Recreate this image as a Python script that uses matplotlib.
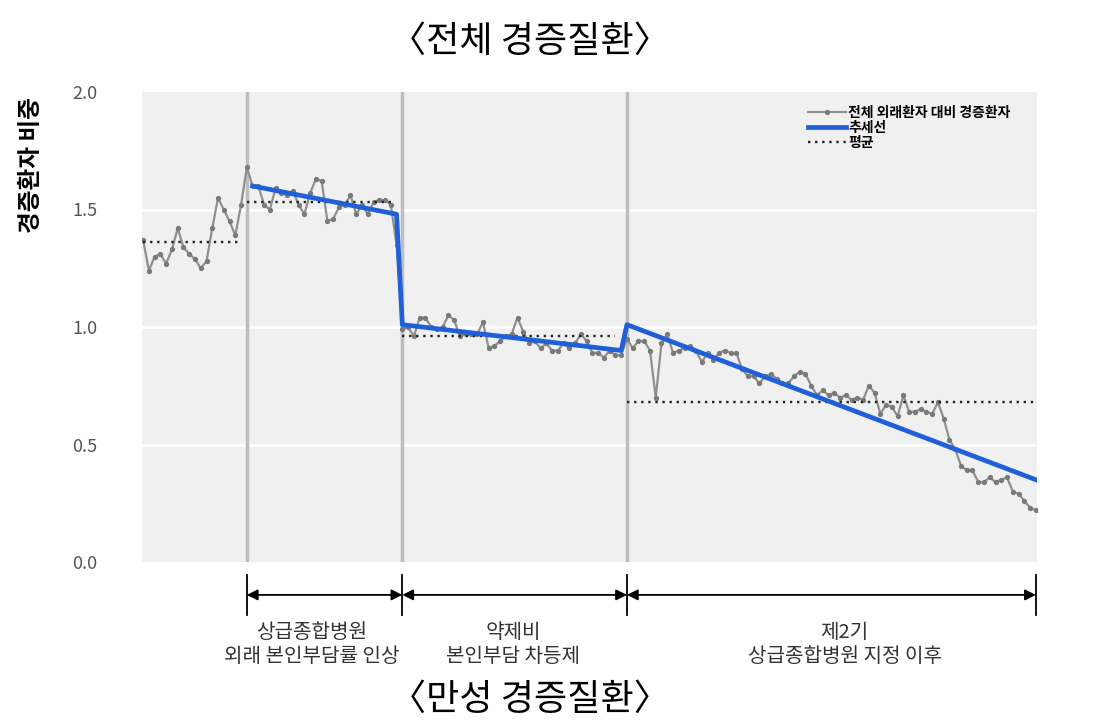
import matplotlib.pyplot as plt
import numpy as np
from matplotlib.lines import Line2D
from matplotlib.transforms import blended_transform_factory

plt.rcParams['font.family'] = ['Noto Sans CJK KR', 'DejaVu Sans']

# 월별 전체 외래환자 대비 경증환자 비중 (정책 구간별로 나눠서 읽음)
share_before = [1.37, 1.24, 1.30, 1.31, 1.27, 1.33, 1.42, 1.34, 1.31, 1.29,
                1.25, 1.28, 1.42, 1.55, 1.50, 1.45, 1.39, 1.52, 1.68]
share_period1 = [1.60, 1.60, 1.52, 1.50, 1.59, 1.57, 1.56, 1.58, 1.52, 1.48,
                 1.57, 1.63, 1.62, 1.45, 1.46, 1.51, 1.52, 1.56, 1.48, 1.52,
                 1.48, 1.53, 1.54, 1.54, 1.52, 1.35]
share_period2 = [0.99, 1.00, 0.96, 1.04, 1.04, 1.00, 0.99, 1.00, 1.05, 1.03,
                 0.96, 0.97, 0.97, 0.97, 1.02, 0.91, 0.92, 0.94, 0.96, 0.97,
                 1.04, 0.98, 0.93, 0.94, 0.91, 0.93, 0.90, 0.90, 0.93, 0.91,
                 0.93, 0.97, 0.94, 0.89, 0.89, 0.87, 0.90, 0.88, 0.88, 0.95]
share_period3 = [0.91, 0.94, 0.94, 0.90, 0.70, 0.93, 0.97, 0.89, 0.90, 0.91,
                 0.92, 0.90, 0.85, 0.89, 0.86, 0.89, 0.90, 0.89, 0.89, 0.82,
                 0.79, 0.79, 0.76, 0.79, 0.80, 0.78, 0.76, 0.76, 0.79, 0.81,
                 0.80, 0.75, 0.71, 0.73, 0.71, 0.72, 0.70, 0.71, 0.69, 0.70,
                 0.69, 0.75, 0.72, 0.63, 0.67, 0.66, 0.62, 0.71, 0.64, 0.64,
                 0.65, 0.64, 0.63, 0.68, 0.61, 0.52, 0.48, 0.41, 0.39, 0.39,
                 0.34, 0.34, 0.36, 0.34, 0.35, 0.36, 0.30, 0.29, 0.26, 0.23,
                 0.22]

share = share_before + share_period1 + share_period2 + share_period3
months = np.arange(len(share))

# 정책 시점 (월 인덱스)
policy_months = [18, 45, 84]
end_month = 155

# 추세선 (구간별 회귀선)
trend_months = [19, 44, 45, 83, 84, 155]
trend_values = [1.60, 1.48, 1.01, 0.90, 1.01, 0.35]

# 구간별 평균
mean_starts = [0, 18, 45, 84]
mean_ends = [17, 43, 82, 155]
mean_values = [1.36, 1.53, 0.96, 0.68]

period_labels = ['상급종합병원\n외래 본인부담률 인상',
                 '약제비\n본인부담 차등제',
                 '제2기\n상급종합병원 지정 이후']
label_centers = [29.3, 64.3, 121.8]

fig = plt.figure(figsize=(11.06, 7.28), dpi=100)
ax = fig.add_axes([142 / 1106, 1 - 562 / 728, 895 / 1106, 470 / 728])
ax.set_facecolor('#f0f0f0')
for s in ax.spines.values():
    s.set_visible(False)

ax.set_xlim(-0.2, 155.2)
ax.set_ylim(0, 2.0)
ax.set_yticks([0, 0.5, 1.0, 1.5, 2.0])
ax.set_yticklabels(['0.0', '0.5', '1.0', '1.5', '2.0'])
ax.set_xticks([])
ax.tick_params(axis='y', length=0, pad=32, labelsize=13, labelcolor='#555555')
for yv in [0.5, 1.0, 1.5]:
    ax.axhline(yv, color='white', lw=2, zorder=0.5)

for m in policy_months:
    ax.axvline(m, color='#bdbdbd', lw=2.5, zorder=1)

ax.plot(months, share, color='#8f8f8f', lw=1.6, marker='o', markersize=2.8,
        markerfacecolor='#7a7a7a', markeredgecolor='#7a7a7a', zorder=2)

for x0, x1, mv in zip(mean_starts, mean_ends, mean_values):
    ax.plot([x0, x1], [mv, mv], color='#222222', lw=1.7, linestyle=(0, (1, 2)), zorder=3)

ax.plot(trend_months, trend_values, color='#1f5fd8', lw=3.4, zorder=4)

handles = [
    Line2D([], [], color='#8f8f8f', lw=1.5, marker='o', markersize=2.8,
           markerfacecolor='#7a7a7a', markeredgecolor='#7a7a7a'),
    Line2D([], [], color='#1f5fd8', lw=3.4),
    Line2D([], [], color='#222222', lw=1.7, linestyle=(0, (1, 2))),
]
ax.legend(handles, ['전체 외래환자 대비 경증환자', '추세선', '평균'],
          loc='upper left', bbox_to_anchor=(0.738, 0.982), frameon=False,
          prop={'size': 10, 'weight': 'bold'}, handlelength=2.7,
          handletextpad=0.2, labelspacing=0.08, borderaxespad=0)

# 아래쪽 기간 화살표
trans = blended_transform_factory(ax.transData, ax.transAxes)
bounds = policy_months + [end_month]
for b in bounds:
    ax.plot([b, b], [-0.028, -0.113], transform=trans, clip_on=False,
            color='black', lw=1.3)
for i in range(len(bounds) - 1):
    ax.annotate('', xy=(bounds[i + 1], -0.070), xytext=(bounds[i], -0.070),
                xycoords=trans, textcoords=trans, annotation_clip=False,
                arrowprops=dict(arrowstyle='<|-|>', color='black', lw=1.3,
                                mutation_scale=16, shrinkA=0, shrinkB=0))
    ax.text(label_centers[i], -0.128, period_labels[i], transform=trans,
            ha='center', va='top', fontsize=14.5, color='#333333', linespacing=1.15)

fig.text(31 / 1106, 1 - 165 / 728, '경증환자 비중', rotation=90, fontsize=17,
         fontweight='bold', ha='center', va='center')
fig.text(530 / 1106, 1 - 42 / 728, '〈전체 경증질환〉', fontsize=26,
         ha='center', va='center')
fig.text(530 / 1106, 1 - 700 / 728, '〈만성 경증질환〉', fontsize=26,
         ha='center', va='center')

fig.savefig('out.png', dpi=100)
